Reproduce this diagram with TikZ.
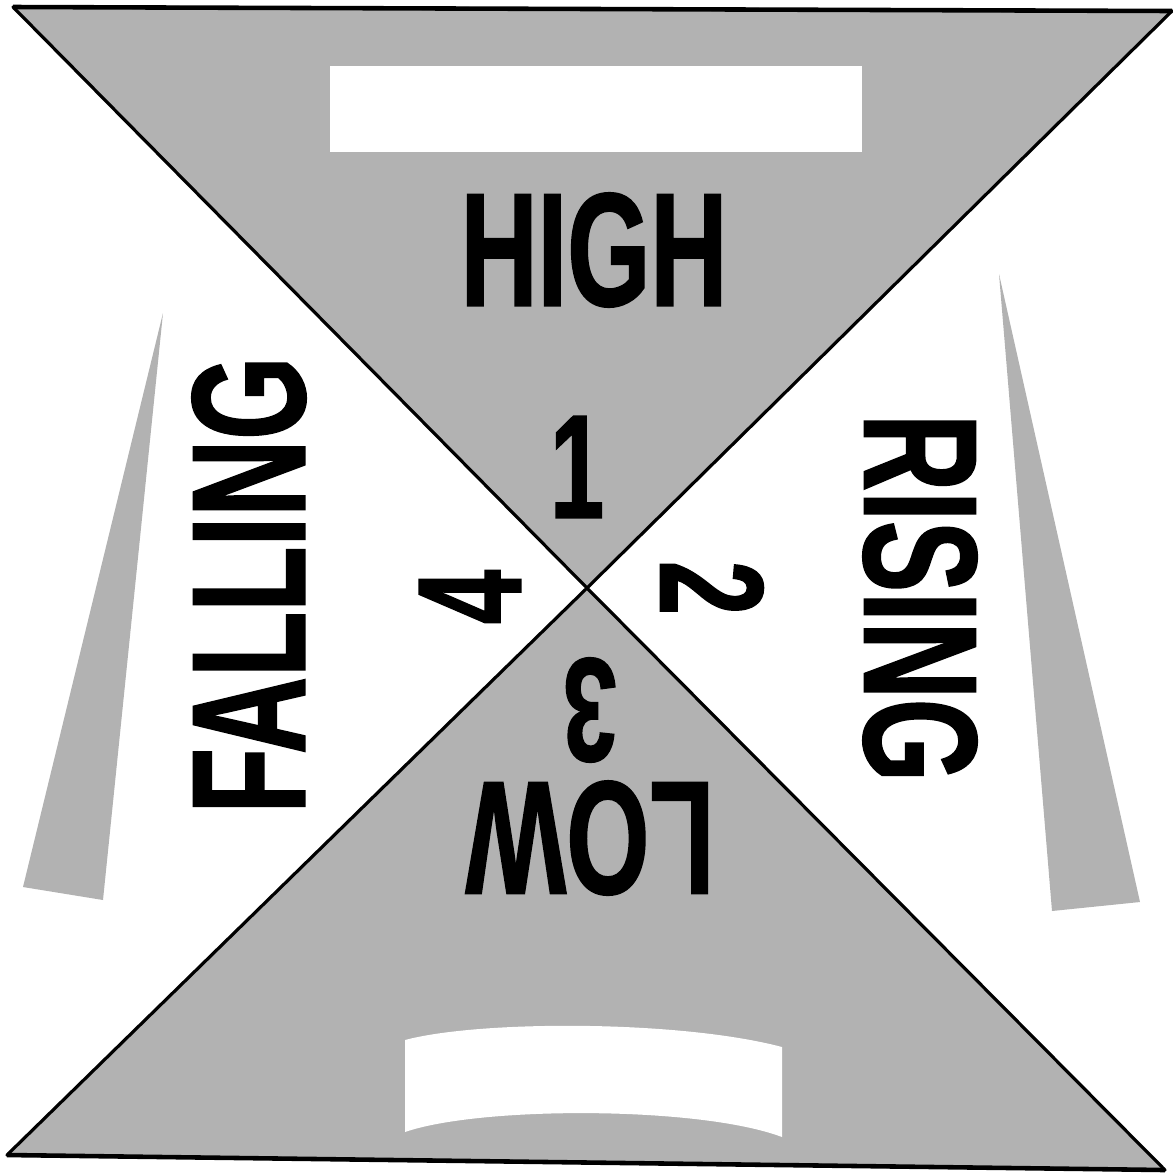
\documentclass[tikz,border=0pt]{standalone}
\usepackage{fontspec}
\newfontfamily\condsans[FakeStretch=0.66, BoldFeatures={FakeBold=1}]{Liberation Sans}
\usetikzlibrary{calc}

\tikzset{
	dotfill/.style={fill=black!30},
	edge/.style={line width=0.9pt, line join=round},
	word/.style={font=\condsans\bfseries\fontsize{46}{46}\selectfont, inner sep=0pt},
	digit/.style={font=\condsans\bfseries\fontsize{42}{42}\selectfont, inner sep=0pt},
}

\begin{document}
\begin{tikzpicture}[x=0.01cm, y=-0.01cm]
			\useasboundingbox (0,0) rectangle (1173,1172);
			% corners of the hourglass
			\coordinate (TL) at (13,7);
			\coordinate (TR) at (1172,11);
			\coordinate (BL) at (7,1155);
			\coordinate (BR) at (1165,1170);
			\coordinate (C) at (587,588);
			% side bars
			\fill[dotfill] (163,313) -- (103,900) -- (23,887) -- cycle;
			\fill[dotfill] (999,274) -- (1140,902) -- (1052,911) -- cycle;
			% upper and lower triangles
			\filldraw[dotfill, edge] (TL) -- (TR) -- (C) -- cycle;
			\filldraw[dotfill, edge] (BL) -- (BR) -- (C) -- cycle;
			\draw[line width=1.3pt] (TL) -- (TR);
			\draw[line width=1.3pt] (BL) -- (BR);
			% blank panels
			\fill[white] (330,66) rectangle (862,152);
			\fill[white] (405,1040) .. controls (480,1020) and (680,1020) .. (782,1047)
				-- (782,1137) .. controls (700,1106) and (480,1106) .. (405,1132) -- cycle;
			% words
			\node[word] (high) at (594,250) {HIGH};
			\node[word, rotate=90] (falling) at (249,585) {FALLING};
			\node[word, rotate=-90] (rising) at (920,598) {RISING};
			\node[word, rotate=180] (low) at (590,838) {LOW};
			% quadrant numbers
			\node[digit] (one) at (577,467) {1};
			\node[digit, rotate=-90] (two) at (712,588) {2};
			\node[digit, rotate=180] (three) at (590,710) {3};
			\node[digit, rotate=90] (four) at (470,597) {4};
		\end{tikzpicture}
\end{document}
